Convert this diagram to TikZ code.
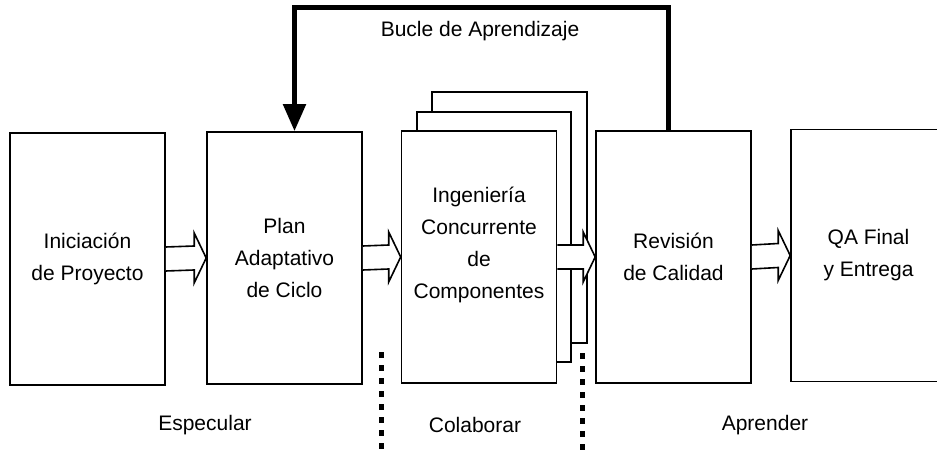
\documentclass[tikz,border=0pt]{standalone}
\usepackage{fontspec}
\setmainfont{Liberation Sans}
\usetikzlibrary{arrows.meta,calc}
\tikzset{fase/.style={draw, line width=1.6pt, fill=white, minimum width=155pt, minimum height=252pt, inner sep=0pt, align=center, font=\fontsize{21}{32}\selectfont},
         capa/.style={draw, line width=1.6pt, fill=white},
         flecha/.style={draw, line width=1.6pt, fill=white, line join=miter},
         bucle/.style={line width=5pt, -{Triangle[width=22pt,length=27pt]}},
         etiqueta/.style={font=\fontsize{21}{25}\selectfont},
         frontera/.style={line width=5pt, dash pattern=on 6pt off 7pt}}

% flecha de bloque hueca entre dos fases
\newcommand{\bloque}[2]{%
  \draw[flecha]
    ($(#1.east)+(0,-12)$) -- ($(#2.west)+(-12,-12)$) -- ($(#2.west)+(-12,-25)$) --
    (#2.west) --
    ($(#2.west)+(-12,25)$) -- ($(#2.west)+(-12,12)$) -- ($(#1.east)+(0,12)$);}

\begin{document}
\begin{tikzpicture}[x=1pt, y=-1pt]
   \useasboundingbox (0,0) rectangle (937,454);
   % fases
   \node[fase] (ini)  at ( 87.5,259) {Iniciaci\'on\\de Proyecto};
   \node[fase] (plan) at (284.5,258) {Plan\\Adaptativo\\de Ciclo};
   \draw[capa] (432, 92) rectangle (587,343);
   \draw[capa] (417,112) rectangle (571,362);
   \node[fase] (ing)  at (479,257) {};
   \node[fase, draw=none, fill=none, minimum height=0pt] (ingtxt) at ([yshift=12pt]ing.center)
      {Ingenier\'ia\\Concurrente\\de\\Componentes};
   \node[fase] (rev)  at (673.5,257) {Revisi\'on\\de Calidad};
   \node[fase] (qa)   at (868.5,255.5) {QA Final\\y Entrega};
   % flechas
   \bloque{ini}{plan}
   \bloque{plan}{ing}
   \bloque{ing}{rev}
   \bloque{rev}{qa}
   % bucle de aprendizaje
   \coordinate (cima) at (480,8);
   \draw[bucle] ([xshift=-5pt]rev.north) |- (cima) -| ([xshift=10pt]plan.north);
   \node[etiqueta] (bucle) at (480,31) {Bucle de Aprendizaje};
   % etapas
   \node[etiqueta] (esp) at (205,425) {Especular};
   \node[etiqueta] (col) at (475,425) {Colaborar};
   \node[etiqueta] (apr) at (765,425) {Aprender};
   \draw[frontera] (381,352) -- (381,454);
   \draw[frontera] (582,353) -- (582,454);
\end{tikzpicture}
\end{document}
